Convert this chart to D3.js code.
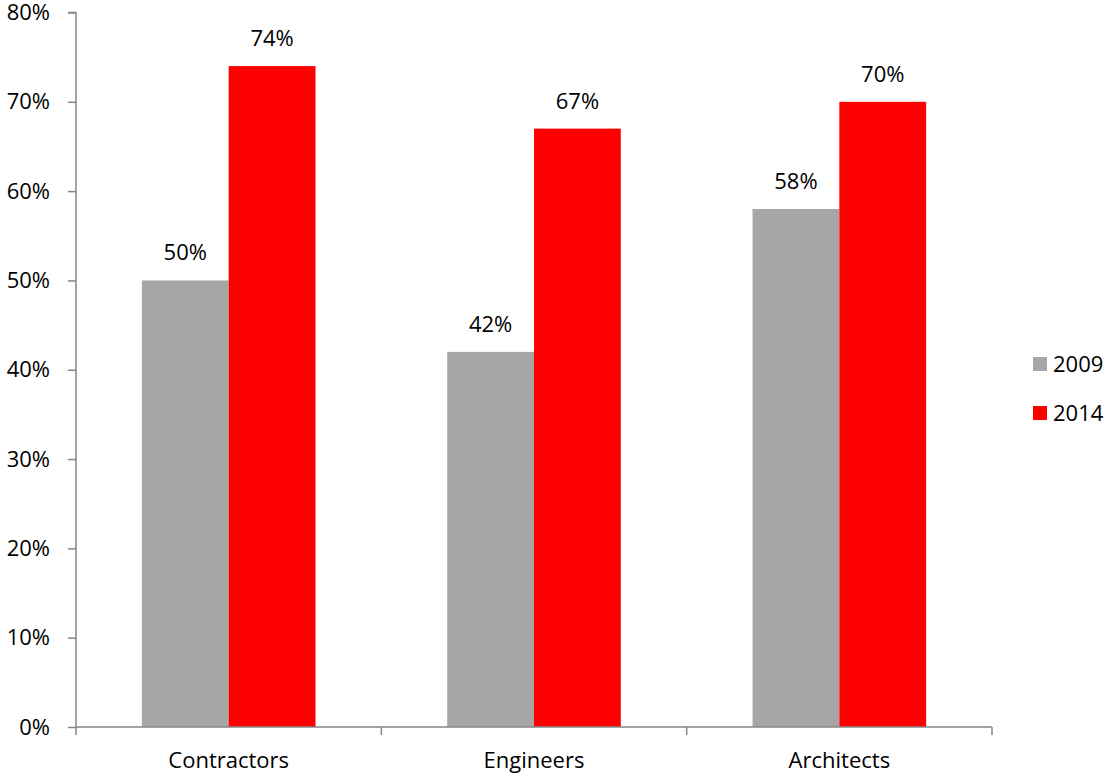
<!DOCTYPE html>
<html><head><meta charset="utf-8">
<script src="https://cdn.jsdelivr.net/npm/d3@7"></script>
<style>body{margin:0;background:#fff}svg{display:block}text{font-family:"Open Sans",sans-serif;fill:#000}</style>
</head><body><svg id="c" width="1109" height="773"></svg>
<script>
const categories = ["Contractors","Engineers","Architects"];
const seriesNames = ["2009","2014"];
const values2009 = [0.50,0.42,0.58];
const values2014 = [0.74,0.67,0.70];
const yTicks = [0,0.1,0.2,0.3,0.4,0.5,0.6,0.7,0.8];
const colors = ["#A6A6A6","#FF0000"];

(function(){
const svg = d3.select("#c");
const mL = 76, mR = 992, mT = 12.5, mB = 727;
const fs = 22;
const y = d3.scaleLinear().domain([0,0.8]).range([mB, mT]);
const x = d3.scaleBand().domain(categories).range([mL, mR]).padding(0);
const bw = x.bandwidth();
const gw = bw * 0.5686;
const x1 = d3.scaleBand().domain(seriesNames).range([(bw-gw)/2, (bw+gw)/2]).padding(0);
const series = [values2009, values2014];
const fmt = d3.format(".0%");
const ff = '"Open Sans",sans-serif';

// bars
seriesNames.forEach((s, si) => {
  svg.append("g").selectAll("rect").data(categories).join("rect")
    .attr("x", c => x(c) + x1(s))
    .attr("y", (c,i) => y(series[si][i]))
    .attr("width", x1.bandwidth())
    .attr("height", (c,i) => mB - y(series[si][i]))
    .attr("fill", colors[si]);
  svg.append("g").selectAll("text").data(categories).join("text")
    .attr("x", c => x(c) + x1(s) + x1.bandwidth()/2)
    .attr("y", (c,i) => y(series[si][i]) - 20)
    .attr("text-anchor","middle")
    .attr("font-size", fs)
    .text((c,i) => fmt(series[si][i]));
});

// y axis
const yAxis = svg.append("g").attr("transform", `translate(${mL},0)`)
  .call(d3.axisLeft(y).tickValues(yTicks).tickFormat(fmt).tickSize(8).tickPadding(18));
yAxis.select(".domain").attr("stroke","#868686").attr("stroke-width",1.5).attr("d", `M-8,${mT}H0V${mB}`);
yAxis.selectAll(".tick line").attr("stroke","#868686").attr("stroke-width",1.5);
yAxis.selectAll(".tick text").attr("font-size",fs).attr("fill","#000").style("font-family",ff);

// x axis
const xAxis = svg.append("g").attr("transform", `translate(0,${mB})`)
  .call(d3.axisBottom(x).tickSize(0));
xAxis.select(".domain").attr("stroke","#868686").attr("stroke-width",1.5).attr("d", `M${mL},0H${mR}`);
xAxis.selectAll(".tick text").attr("font-size",fs).attr("fill","#000").style("font-family",ff)
  .attr("y", 41).attr("dy", 0);
const bounds = [mL, ...categories.map(c => x(c) + bw)];
xAxis.selectAll("line.sep").data(bounds).join("line").attr("class","sep")
  .attr("x1", d => d).attr("x2", d => d).attr("y1", 0).attr("y2", 8)
  .attr("stroke","#868686").attr("stroke-width",1.5);

// legend
const lg = svg.append("g");
seriesNames.forEach((s, i) => {
  const yy = 357 + i * 49;
  lg.append("rect").attr("x",1033).attr("y",yy).attr("width",14).attr("height",14).attr("fill",colors[i]);
  lg.append("text").attr("x",1053).attr("y",yy+7).attr("dy","0.35em").attr("font-size",fs).text(s);
});
})();
</script></body></html>
